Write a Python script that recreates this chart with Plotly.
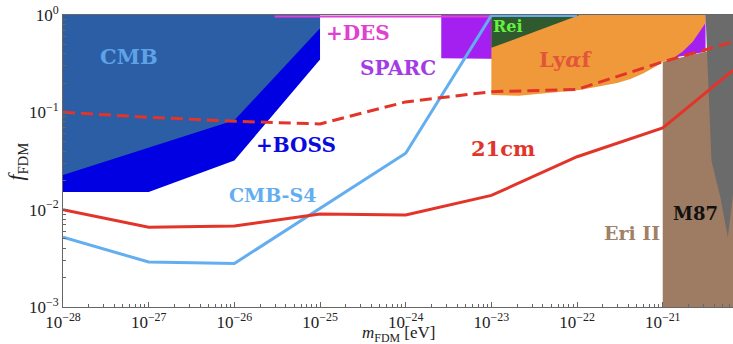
import math
import plotly.graph_objects as go

# ---------------- data (m_FDM in eV, f_FDM) ----------------
x_max = 10 ** -20.18

boss_m = [1e-28, 1e-27, 1e-26, 1e-25, 1e-25, 1e-28]
boss_f = [0.0152, 0.0152, 0.032, 0.35, 1.0, 1.0]

cmb_m = [1e-28, 1e-25, 1e-25, 1e-26, 1e-28]
cmb_f = [1.0, 1.0, 0.73, 0.083, 0.0227]

des_m = [2.95e-26, 1e-23]
des_f = [0.965, 0.965]

eri_m = [1e-21, 1e-21, 3.16e-21, 1e-20, 1e-20]
eri_f = [0.00095, 0.33, 0.42, 0.56, 0.00095]

sparc_m = [2.6e-24, 3.16e-21, 3.16e-21, 1.48e-21, 1e-21, 1e-23, 2.6e-24]
sparc_f = [1.0, 1.0, 0.42, 0.37, 0.34, 0.36, 0.36]

lya_m = [1e-23, 3.16e-21, 3.16e-21, 2.24e-21, 1.7e-21, 1.32e-21, 1e-21,
         8.5e-22, 5.9e-22, 4.2e-22, 2.95e-22, 1.07e-22, 2.1e-23, 1e-23]
lya_f = [1.0, 1.0, 0.83, 0.53, 0.42, 0.36, 0.33,
         0.30, 0.25, 0.22, 0.20, 0.17, 0.148, 0.151]

rei_m = [1e-23, 1.07e-22, 1e-23]
rei_f = [1.0, 1.0, 0.46]

m87_m = [3.16e-21, 3.47e-21, 3.7e-21, 4.7e-21, 5.75e-21, 6.5e-21, 7.0e-21, 8e-21, 8e-21]
m87_f = [1.0, 0.106, 0.032, 0.0135, 0.0052, 0.0126, 0.026, 0.1, 1.0]

s4_m = [1e-28, 1e-27, 1e-26, 1e-24, 1e-23, 1e-22]
s4_f = [0.0052, 0.0029, 0.0028, 0.038, 0.99, 0.99]

cm21_m = [1e-28, 1e-27, 1e-26, 1e-25, 1e-24, 1e-23, 1e-22, 1e-21, x_max]
cm21_f = [0.010, 0.0066, 0.0068, 0.0090, 0.0088, 0.014, 0.035, 0.069, 0.27]

cm21d_m = [1e-28, 1e-27, 1e-26, 1e-25, 1e-24, 1e-23, 1e-22, 1e-21, x_max]
cm21d_f = [0.10, 0.089, 0.081, 0.076, 0.128, 0.163, 0.172, 0.33, 0.53]

x_tickvals = [1e-28, 1e-27, 1e-26, 1e-25, 1e-24, 1e-23, 1e-22, 1e-21]
x_ticktext = ["10<sup>−28</sup>", "10<sup>−27</sup>", "10<sup>−26</sup>", "10<sup>−25</sup>",
              "10<sup>−24</sup>", "10<sup>−23</sup>", "10<sup>−22</sup>", "10<sup>−21</sup>"]
y_tickvals = [1e-3, 1e-2, 1e-1, 1e0]
y_ticktext = ["10<sup>−3</sup>", "10<sup>−2</sup>", "10<sup>−1</sup>", "10<sup>0</sup>"]

x_title = "<i>m</i><sub>FDM</sub> [eV]"
y_title = "<i>f</i><sub>FDM</sub>"

labels = [
    ("CMB", 10 ** -27.23, 10 ** -0.43, "#5ea3e6", 21),
    ("+DES", 10 ** -24.56, 10 ** -0.185, "#e040d0", 20),
    ("SPARC", 10 ** -24.09, 10 ** -0.545, "#a43ce6", 20),
    ("+BOSS", 10 ** -25.28, 10 ** -1.336, "#0a0ae0", 20),
    ("CMB-S4", 10 ** -25.56, 10 ** -1.85, "#63aef0", 19),
    ("21cm", 10 ** -22.87, 10 ** -1.367, "#e3342a", 21),
    ("Rei", 10 ** -22.81, 10 ** -0.123, "#66f040", 16),
    ("Ly<i>α</i>f", 10 ** -22.13, 10 ** -0.46, "#e3553a", 21),
    ("Eri II", 10 ** -21.36, 10 ** -2.24, "#a08066", 19),
    ("M87", 10 ** -20.62, 10 ** -2.04, "#111111", 18),
]

# ---------------- figure ----------------
fig = go.Figure()


def region(m, f, color):
    fig.add_trace(go.Scatter(x=m, y=f, mode="lines", fill="toself", fillcolor=color,
                             line=dict(width=0, color=color), hoverinfo="skip"))


region(boss_m, boss_f, "#0000e2")
region(cmb_m, cmb_f, "#2c5ea6")
region(eri_m, eri_f, "#9e7b63")
region(sparc_m, sparc_f, "#a420f0")
fig.add_trace(go.Scatter(x=des_m, y=des_f, mode="lines",
                         line=dict(color="#e040d8", width=2), hoverinfo="skip"))
region(lya_m, lya_f, "#f0993a")
region(rei_m, rei_f, "#2e5a2e")
region(m87_m, m87_f, "#6b6b6b")

fig.add_trace(go.Scatter(x=s4_m, y=s4_f, mode="lines",
                         line=dict(color="#63aef0", width=3), hoverinfo="skip"))
fig.add_trace(go.Scatter(x=cm21d_m, y=cm21d_f, mode="lines",
                         line=dict(color="#e3342a", width=3, dash="12px,6px"), hoverinfo="skip"))
fig.add_trace(go.Scatter(x=cm21_m, y=cm21_f, mode="lines",
                         line=dict(color="#e3342a", width=3), hoverinfo="skip"))

for text, lx, ly, col, sz in labels:
    fig.add_annotation(x=math.log10(lx), y=math.log10(ly), text="<b>%s</b>" % text,
                       showarrow=False, xanchor="center", yanchor="middle",
                       font=dict(family="DejaVu Serif", size=sz, color=col))

# axis titles as paper-anchored annotations
fig.add_annotation(xref="paper", yref="paper", x=0.5, y=-0.094, text=x_title,
                   showarrow=False, xanchor="center", yanchor="middle",
                   font=dict(family="Liberation Serif", size=17, color="#222222"))
fig.add_annotation(xref="paper", yref="paper", x=-0.068, y=0.5, text=y_title,
                   showarrow=False, xanchor="center", yanchor="middle", textangle=-90,
                   font=dict(family="Liberation Serif", size=21, color="#222222"))

minor_x = [k * 10.0 ** n for n in range(-28, -19) for k in range(2, 10)]
minor_y = [k * 10.0 ** n for n in range(-3, 0) for k in range(2, 10)]

axis_common = dict(
    showgrid=False, zeroline=False, showline=True, linecolor="#666666", linewidth=1,
    ticks="inside", ticklen=5, tickcolor="#666666", tickwidth=1, automargin=False,
    tickfont=dict(family="Liberation Serif", size=17, color="#222222"),
)

fig.update_xaxes(type="log", range=[-28, math.log10(x_max)], mirror=True,
                 tickmode="array", tickvals=x_tickvals, ticktext=x_ticktext,
                 minor=dict(ticks="inside", ticklen=3, tickcolor="#666666",
                            tickmode="array", tickvals=minor_x, showgrid=False),
                 **axis_common)
fig.update_yaxes(type="log", range=[-3, 0],
                 tickmode="array", tickvals=y_tickvals, ticktext=y_ticktext,
                 minor=dict(ticks="inside", ticklen=3, tickcolor="#666666",
                            tickmode="array", tickvals=minor_y, showgrid=False),
                 **axis_common)

fig.update_layout(
    width=733, height=344, showlegend=False,
    margin=dict(l=63, r=0, t=15, b=37),
    paper_bgcolor="white", plot_bgcolor="white",
)

fig.write_html("out.html", config={"displayModeBar": False},
               post_script="document.body.style.margin='0';document.body.style.overflow='hidden';")
